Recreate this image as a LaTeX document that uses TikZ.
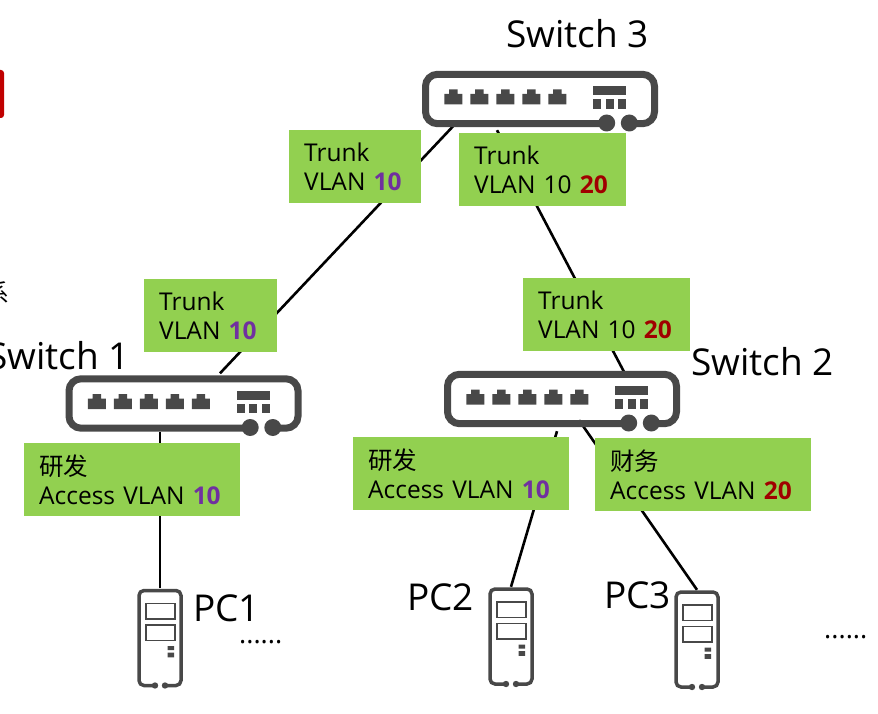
\documentclass[tikz,border=0pt]{standalone}
\usepackage{fontspec}
\setmainfont{Open Sans}
\newfontfamily\cjk{Noto Sans CJK SC}
\usetikzlibrary{positioning}
\definecolor{cLan}{HTML}{92D050}
\definecolor{cIcon}{HTML}{484848}
\definecolor{cTen}{HTML}{7030A0}
\definecolor{cTwenty}{HTML}{A00000}
\definecolor{cMark}{HTML}{C00000}
\newcommand{\vten}{\textcolor{cTen}{\textbf{10}}}
\newcommand{\vtwenty}{\textcolor{cTwenty}{\textbf{20}}}
\tikzset{
  switchicon/.pic={
    \draw[cIcon,line width=7pt,rounded corners=12pt]
      (89.3,24.7) -- (114.5,24.7) -- (114.5,-24.7) -- (-114.5,-24.7) -- (-114.5,24.7) -- (66.7,24.7);
    \fill[cIcon] (66.7,24) circle (8.5pt) (89.3,24) circle (8.5pt);
    % five ports
    \foreach \i in {0,...,4}
      \fill[cIcon,shift={(26*\i,0)}] (-95.7,5.5) -- (-95.7,-5) -- (-91,-5) -- (-91,-9.5)
        -- (-82.4,-9.5) -- (-82.4,-5) -- (-77.7,-5) -- (-77.7,5.5) -- cycle;
    \fill[cIcon] (53.3,-12.7) rectangle (86,-3.7);
    \foreach \i in {0,1,2}
      \fill[cIcon] (53.3+12.4*\i,0.3) rectangle ++(8,9.3);
  },
  pcicon/.pic={
    \draw[cIcon,line width=3.5pt,rounded corners=5pt]
      (5,47.5) -- (21,47.5) -- (21,-47.5) -- (-21,-47.5) -- (-21,47.5) -- (-5,47.5);
    \fill[cIcon] (-5,47.5) circle (3.2pt) (5,47.5) circle (3.2pt);
    \draw[cIcon,line width=1.5pt] (-14,-34.7) rectangle (15,-19) (-14,-13) rectangle (15,2.3);
    \fill[cIcon] (7.7,8) rectangle (14,12) (7.7,14.7) rectangle (14,19.3);
  },
}
\begin{document}
\begin{tikzpicture}[x=1pt,y=-1pt,
  swframe/.style={minimum width=236pt,minimum height=56pt,inner sep=0pt},
  pcframe/.style={minimum width=45pt,minimum height=99pt,inner sep=0pt},
  lan/.style={fill=cLan,anchor=north west,align=left,minimum height=73pt,inner xsep=15pt,inner ysep=0pt,
    text width=#1,font=\fontsize{24.5}{29}\selectfont},
  big/.style={anchor=base west,inner sep=0pt,font=\fontsize{37}{40}\selectfont},
  link/.style={line width=2.6pt,black},
  dots/.style={anchor=base west,inner sep=0pt,font=\fontsize{27}{30}\selectfont}]
  \useasboundingbox (0,0) rectangle (878,714);
  \clip (0,0) rectangle (878,714);
  \node[swframe] (sw3) at (540,99) {};
  \node[swframe] (sw1) at (183.5,403.5) {};
  \node[swframe] (sw2) at (562,399) {};
  \node[pcframe] (pc1) at (160,638) {};
  \node[pcframe] (pc2) at (511,636.5) {};
  \node[pcframe] (pc3) at (697,639.5) {};
  % links
  \draw[link] ([xshift=-85pt,yshift=3pt]sw3.south) -- ([xshift=36.5pt,yshift=2pt]sw1.north);
  \draw[link] ([xshift=-43pt,yshift=-3pt]sw3.south) -- ([xshift=64.6pt,yshift=-6pt]sw2.north);
  \draw[link] (pc1.north) -- (pc1.north |- sw1.south);
  \draw[link] ([xshift=-5pt,yshift=-4pt]sw2.south) -- (pc2.north);
  \draw[link] ([xshift=17pt,yshift=7pt]sw2.south) -- (pc3.north);
  % icons
  \pic at (sw3) {switchicon};
  \pic at (sw1) {switchicon};
  \pic at (sw2) {switchicon};
  \pic at (pc1) {pcicon};
  \pic at (pc2) {pcicon};
  \pic at (pc3) {pcicon};
  % vlan labels
  \node[lan=102pt] (t31) at (289,130) {Trunk\\VLAN \vten};
  \node[lan=137pt] (t32) at (459,133) {Trunk\\VLAN 10 \vtwenty};
  \node[lan=103pt] (t1) at (144,279) {Trunk\\VLAN \vten};
  \node[lan=137pt] (t2) at (523,278) {Trunk\\VLAN 10 \vtwenty};
  \node[lan=186pt] (a1) at (24,443) {{\cjk 研发}\\Access VLAN \vten};
  \node[lan=186pt] (a2) at (353,437) {{\cjk 研发}\\Access VLAN \vten};
  \node[lan=186pt] (a3) at (595,438) {{\cjk 财务}\\Access VLAN \vtwenty};
  % names
  \node[big] (n3) at (506,48) {Switch 3};
  \node[big,anchor=base east] (n1) at (130,369) {Switch 1};
  \node[big] (n2) at (691,375) {Switch 2};
  \node[big] (p1) at (193,621) {PC1};
  \node[big] (p2) at (407,610) {PC2};
  \node[big] (p3) at (604,608) {PC3};
  \node[dots] (d1) at (239,643) {......};
  \node[dots] (d2) at (824,638) {......};
  % cut off at the left edge
  \fill[cMark,rounded corners=3pt] (-10,70) rectangle (4,118);
  \node[anchor=base east,inner sep=0pt,font=\fontsize{25}{29}\selectfont\cjk] (cut) at (10,302) {系};
\end{tikzpicture}
\end{document}
